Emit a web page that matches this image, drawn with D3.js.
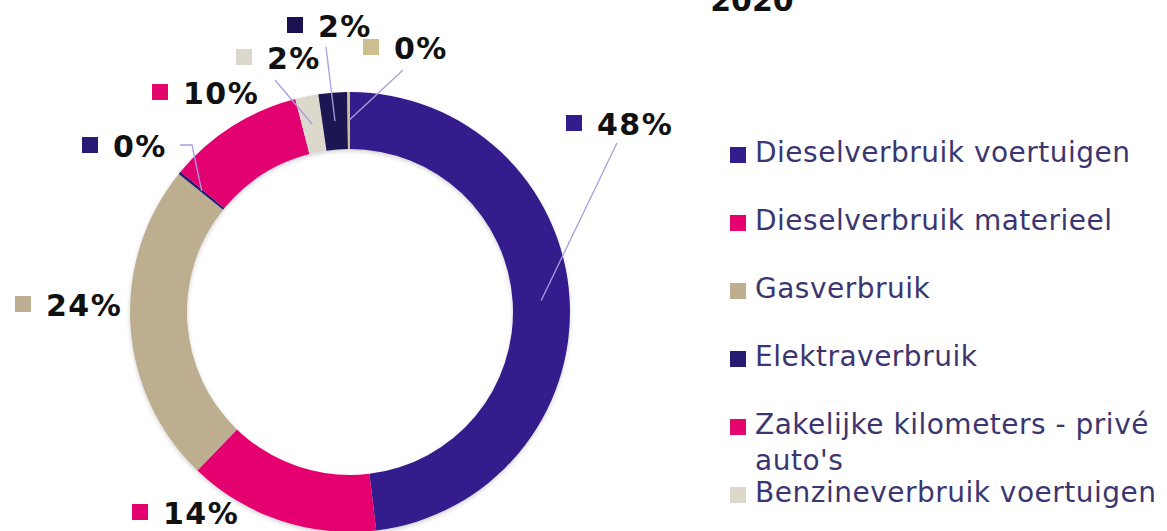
<!DOCTYPE html>
<html>
<head>
<meta charset="utf-8">
<script src="https://cdn.jsdelivr.net/npm/d3@7"></script>
<style>
  body { margin: 0; background: #fff; }
  svg { display: block; }
</style>
</head>
<body>
<div id="chart"></div>
<script>
// data (shares in %)
const title = "2020";
const categories = [
    "Dieselverbruik voertuigen",
    "Dieselverbruik materieel",
    "Gasverbruik",
    "Elektraverbruik",
    "Zakelijke kilometers - privé auto's",
    "Benzineverbruik voertuigen",
    "Benzineverbruik materieel",
    "Vliegreizen"
];
const shares = [48.1, 14.1, 23.6, 0.2, 10.0, 1.7, 2.1, 0.2];
const colors = ["#341c8c", "#e5006f", "#beae90", "#281b74", "#e3066f", "#dcd9cc", "#1b1252", "#cdbf8f"];

// where the data labels sit, relative to the pie centre (dragged labels in the original)
const labelPos = [[216, -188], [-218, 201], [-335, -7], [-268, -166], [-198, -219], [-114, -254], [-63, -286], [13, -264]];
// leader line start points, relative to the label
const leaderFrom = [[[51, 19]], null, null, [[98, -1], [110, -1]], null, [[39, 22]], [[39, 21]], [[40, 22]]];

const width = 1167, height = 531;
const cx = 350, cy = 312;
const innerR = 163, outerR = 220;

const svg = d3.select("#chart")
    .append("svg")
    .attr("width", width)
    .attr("height", height);

const defs = svg.append("defs");
defs.append("filter")
    .attr("id", "soft")
    .attr("x", "-10%").attr("y", "-10%").attr("width", "120%").attr("height", "120%")
    .append("feDropShadow")
    .attr("dx", 0).attr("dy", 2)
    .attr("stdDeviation", 2)
    .attr("flood-color", "#000")
    .attr("flood-opacity", 0.18);

// Titel (bijna helemaal buiten beeld)
svg.append("text")
    .attr("x", 752)
    .attr("y", 11)
    .attr("text-anchor", "middle")
    .style("font-family", "'DejaVu Sans', Verdana, sans-serif")
    .style("font-size", "30px")
    .style("font-weight", "bold")
    .style("fill", "#111")
    .text(title);

const data = categories.map((c, i) => ({ name: c, value: shares[i], color: colors[i] }));
const pie = d3.pie().sort(null).value(d => d.value);
const arc = d3.arc().innerRadius(innerR).outerRadius(outerR);
const arcs = pie(data);
const fmt = d3.format(".0f");

const g = svg.append("g").attr("transform", `translate(${cx},${cy})`);

// Ring
g.append("g")
    .attr("filter", "url(#soft)")
    .selectAll("path")
    .data(arcs)
    .enter().append("path")
    .attr("d", arc)
    .attr("fill", d => d.data.color);

// Leader lines
arcs.forEach((d, i) => {
    if (!leaderFrom[i]) return;
    const [lx, ly] = labelPos[i];
    const pts = leaderFrom[i].map(p => [lx + p[0], ly + p[1]]);
    pts.push(arc.centroid(d));
    g.append("path")
        .attr("d", d3.line()(pts))
        .attr("fill", "none")
        .attr("stroke", "#a89fdc")
        .attr("stroke-width", 1.3);
});

// Data labels
const labels = g.selectAll(".lbl")
    .data(arcs)
    .enter().append("g")
    .attr("class", "lbl")
    .attr("transform", (d, i) => `translate(${labelPos[i][0]},${labelPos[i][1]})`);

labels.append("rect")
    .attr("x", 0).attr("y", -9)
    .attr("width", 16).attr("height", 16)
    .attr("fill", d => d.data.color);

labels.append("text")
    .attr("x", 31)
    .attr("dy", "0.36em")
    .style("font-family", "'DejaVu Sans', Verdana, sans-serif")
    .style("font-size", "30px")
    .style("font-weight", "bold")
    .style("letter-spacing", "1.5px")
    .style("fill", "#111")
    .text(d => fmt(d.data.value) + "%");

// Legend (entries that fall below the picture are left out, as in the original)
const legend = svg.append("g").attr("transform", "translate(730,0)");
const maxW = 412;

categories.forEach((name, i) => {
    const base = 162 + 68 * i;
    if (base > height) return;
    legend.append("rect")
        .attr("x", 0).attr("y", base - 15)
        .attr("width", 16).attr("height", 16)
        .attr("fill", colors[i]);

    const t = legend.append("text")
        .attr("x", 25).attr("y", base)
        .style("font-family", "'DejaVu Sans', Verdana, sans-serif")
        .style("font-size", "28px")
        .style("letter-spacing", "0.5px")
        .style("fill", "#3c3670");

    // woorden laten afbreken als de regel te lang wordt
    const words = name.split(" ");
    let line = [];
    let tspan = t.append("tspan").attr("x", 25);
    words.forEach(w => {
        line.push(w);
        tspan.text(line.join(" "));
        if (tspan.node().getComputedTextLength() > maxW && line.length > 1) {
            line.pop();
            tspan.text(line.join(" "));
            line = [w];
            tspan = t.append("tspan").attr("x", 25).attr("dy", 36).text(w);
        }
    });
});
</script>
</body>
</html>
